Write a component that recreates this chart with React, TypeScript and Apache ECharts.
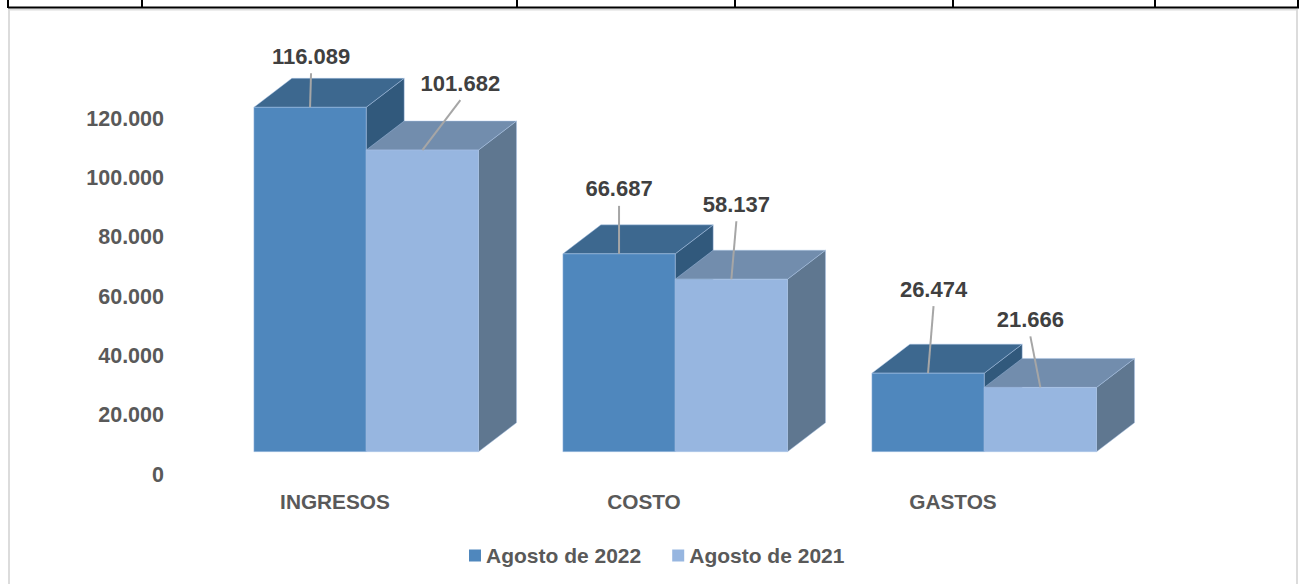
import React, { useEffect, useRef } from "react";
import * as echarts from "echarts";

const categories = ["INGRESOS", "COSTO", "GASTOS"];
const seriesNames = ["Agosto de 2022", "Agosto de 2021"];
const values2022 = [116089, 66687, 26474];
const values2021 = [101682, 58137, 21666];
const yTicks = { min: 0, max: 120000, interval: 20000 };

// Layout only (pixels): the offset of each value label from the top of its bar.
const labelOffsets2022 = [[1, -51], [0, -65], [5.5, -84]];
const labelOffsets2021 = [[38, -67], [5, -75], [-10, -68]];
const tableTicks = [8, 142, 517, 735, 953, 1155, 1298];

const FONT = '"Liberation Sans", Arial, sans-serif';
const GROUP_SHIFT_X = 31.2;
const FRONT_SHIFT_Y = -23;
const DEPTH_X = 38;
const DEPTH_Y = -29;
const BAR_BAND_RATIO = 0.3635;

const palette2022 = { front: "#4F87BD", top: "#3D688F", side: "#31597C" };
const palette2021 = { front: "#97B6E0", top: "#728DAD", side: "#5F7790" };
const EDGE = "rgba(170,198,232,0.45)";

const fmt = (v: number) =>
  v === 0 ? "0" : String(v).replace(/\B(?=(\d{3})+$)/g, ".");

function makeSeries(
  name: string,
  values: number[],
  pal: { front: string; top: string; side: string },
  side: -1 | 0,
  offsets: number[][]
) {
  return {
    type: "custom",
    name,
    silent: true,
    clip: false,
    itemStyle: { color: pal.front },
    encode: { x: 0, y: 1 },
    data: values.map((v, i) => [i, v]),
    renderItem: (_: any, api: any) => {
      const idx = api.value(0);
      const val = api.value(1);
      const top = api.coord([idx, val]);
      const base = api.coord([idx, 0]);
      const w = api.size([1, 0])[0] * BAR_BAND_RATIO;
      const x0 = top[0] + GROUP_SHIFT_X + (side === -1 ? -w : 0);
      const x1 = x0 + w;
      const yT = top[1] + FRONT_SHIFT_Y;
      const yB = base[1] + FRONT_SHIFT_Y;
      const stroke = { stroke: EDGE, lineWidth: 1 };
      const cx = (x0 + x1) / 2;
      const off = offsets[idx];
      const lx = cx + off[0];
      const ly = yT + off[1];
      return {
        type: "group",
        children: [
          {
            type: "polygon",
            shape: { points: [[x1, yT], [x1 + DEPTH_X, yT + DEPTH_Y], [x1 + DEPTH_X, yB + DEPTH_Y], [x1, yB]] },
            style: { fill: pal.side, ...stroke },
          },
          {
            type: "polygon",
            shape: { points: [[x0, yT], [x0 + DEPTH_X, yT + DEPTH_Y], [x1 + DEPTH_X, yT + DEPTH_Y], [x1, yT]] },
            style: { fill: pal.top, ...stroke },
          },
          {
            type: "rect",
            shape: { x: x0, y: yT, width: w, height: yB - yT },
            style: { fill: pal.front, ...stroke },
          },
          {
            type: "line",
            shape: { x1: lx, y1: ly + 17, x2: cx, y2: yT },
            style: { stroke: "#A6A6A6", lineWidth: 2 },
          },
          {
            type: "text",
            style: {
              text: fmt(val),
              x: lx,
              y: ly,
              align: "center",
              verticalAlign: "middle",
              fill: "#404040",
              fontSize: 22,
              fontWeight: "bold",
              fontFamily: FONT,
            },
          },
        ],
      };
    },
  };
}

export default function App() {
  const ref = useRef<HTMLDivElement>(null);
  useEffect(() => {
    document.body.style.margin = "0";
    const chart = echarts.init(ref.current!, null, { renderer: "svg" });
    const frame = { stroke: "#DCDCDC", lineWidth: 2 };
    const black = { stroke: "#000000", lineWidth: 2 };
    chart.setOption({
      animation: false,
      backgroundColor: "#FFFFFF",
      grid: { left: 180.5, top: 118.7, width: 927, height: 356 },
      legend: {
        left: 464,
        top: 540,
        icon: "rect",
        itemWidth: 12,
        itemHeight: 12,
        itemGap: 31,
        selectedMode: false,
        data: seriesNames,
        textStyle: {
          color: "#595959",
          fontSize: 21,
          fontWeight: "bold",
          fontFamily: FONT,
          padding: [0, 0, 0, 0],
        },
      },
      xAxis: {
        type: "category",
        data: categories,
        axisLine: { show: false },
        axisTick: { show: false },
        axisLabel: {
          color: "#595959",
          fontSize: 20.8,
          fontWeight: "bold",
          fontFamily: FONT,
          margin: 16.5,
        },
      },
      yAxis: {
        type: "value",
        ...yTicks,
        splitLine: { show: false },
        axisLine: { show: false },
        axisTick: { show: false },
        axisLabel: {
          color: "#595959",
          fontSize: 21.5,
          fontWeight: "bold",
          fontFamily: FONT,
          margin: 16.5,
          formatter: (v: number) => fmt(v),
        },
      },
      graphic: [
        { type: "line", silent: true, shape: { x1: 9, y1: 9.5, x2: 1297, y2: 9.5 }, style: frame },
        { type: "line", silent: true, shape: { x1: 9, y1: 9, x2: 9, y2: 584 }, style: frame },
        { type: "line", silent: true, shape: { x1: 1297, y1: 9, x2: 1297, y2: 584 }, style: frame },
        { type: "line", silent: true, shape: { x1: 8, y1: 7.5, x2: 1299, y2: 7.5 }, style: black },
        ...tableTicks.map((x) => ({
          type: "line",
          silent: true,
          shape: { x1: x, y1: 0, x2: x, y2: 8 },
          style: black,
        })),
      ],
      series: [
        makeSeries(seriesNames[0], values2022, palette2022, -1, labelOffsets2022),
        makeSeries(seriesNames[1], values2021, palette2021, 0, labelOffsets2021),
      ],
    });
    return () => chart.dispose();
  }, []);
  return <div ref={ref} style={{ width: 1303, height: 584 }} />;
}
